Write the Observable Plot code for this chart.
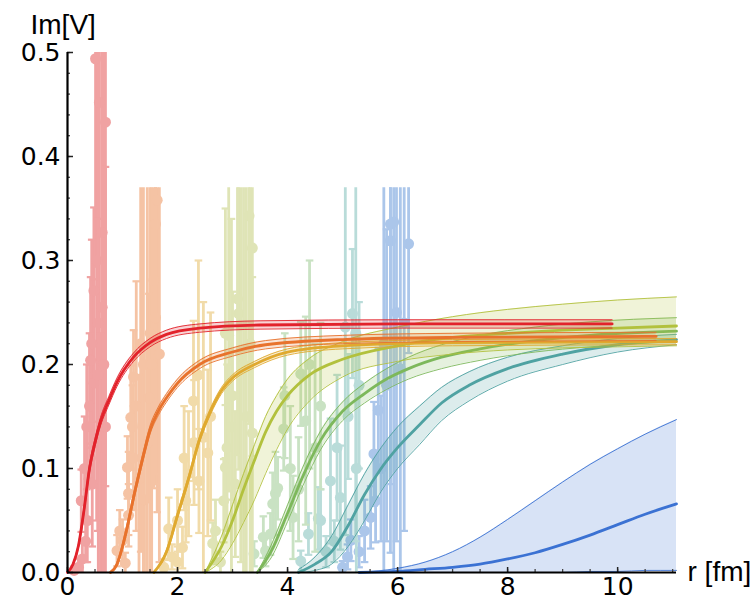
<!DOCTYPE html>
<html>
<head>
<meta charset="utf-8">
<script src="https://cdn.jsdelivr.net/npm/d3@7"></script>
<script src="https://cdn.jsdelivr.net/npm/@observablehq/plot@0.6"></script>
<style>
  html, body { margin: 0; padding: 0; background: #fff; }
  #chart { width: 755px; height: 601px; }
</style>
</head>
<body>
<div id="chart"></div>
<script>
// ---- tick labels / axis ----
const xTicks = [0, 2, 4, 6, 8, 10];
const yTicks = [0, 0.1, 0.2, 0.3, 0.4, 0.5];
const xLabel = "r [fm]";
const yLabel = "Im[V]";

// ---- series (order of drawing) ----
const seriesNames = ["blue", "teal", "green", "olive", "golden", "orange", "red"];
const pointColors = {red: "#f0a2a2", orange: "#f5c3a4", golden: "#f1dba9", olive: "#dfe4b6", green: "#c9e2c3", teal: "#b9dcd9", blue: "#abc6ea"};
const curveColors = {red: "#e2222b", orange: "#e8722c", golden: "#e0a92f", olive: "#b2c13d", green: "#7db85b", teal: "#4fa2a2", blue: "#3b72d3"};
const clipTop = {red: 0.5, orange: 0.37, golden: 0.37, olive: 0.37, green: 0.37, teal: 0.37, blue: 0.37};

// ---- data points [r, Im V, error] ----
const redPts = [[0.51,0.494,0.2],[0.58,0.452,0.25],[0.69,0.433,0.35],[0.63,0.327,0.2],[0.48,0.271,0.08],[0.63,0.255,0.3],[0.44,0.22,0.1],[0.42,0.204,0.08],[0.48,0.182,0.1],[0.69,0.14,0.25],[0.35,0.14,0.06],[0.31,0.1,0.05],[0.25,0.069,0.03],[0.36,0.05,0.04],[0.33,0.03,0.02],[0.27,0.013,0.015],[0.2,0.005,0.008],[0.12,0.002,0.004],[0.4,0.16,0.07],[0.55,0.19,0.15],[0.45,0.085,0.06],[0.6,0.11,0.12],[0.53,0.3,0.25],[0.66,0.2,0.3],[0.56,0.24,0.28]];
const orangePts = [[1.63,0.358,0.3],[1.6,0.335,0.25],[1.57,0.281,0.2],[1.6,0.245,0.15],[1.2,0.188,0.045],[1.15,0.149,0.05],[1.2,0.11,0.05],[1.11,0.076,0.04],[1.18,0.14,0.04],[1.09,0.101,0.03],[1.11,0.055,0.03],[1.0,0.031,0.02],[0.9,0.021,0.015],[1.05,0.009,0.01],[1.48,0.168,0.1],[1.38,0.2,0.2],[1.45,0.125,0.25],[1.3,0.09,0.1],[1.5,0.23,0.3],[0.95,0.04,0.02],[1.25,0.16,0.12],[1.4,0.07,0.15],[1.33,0.22,0.2],[1.53,0.2,0.25],[1.67,0.21,0.2]];
const goldenPts = [[2.38,0.19,0.11],[2.47,0.13,0.13],[2.29,0.165,0.077],[2.2,0.095,0.06],[2.39,0.088,0.05],[1.84,0.042,0.03],[2.09,0.024,0.02],[2.15,0.069,0.04],[2.0,0.05,0.03],[1.9,0.015,0.012],[1.75,0.005,0.008],[2.55,0.115,0.08],[2.3,0.125,0.06],[2.6,0.15,0.1],[2.12,0.11,0.05],[2.0,0.01,0.015]];
const olivePts = [[3.3,0.343,0.2],[3.36,0.312,0.2],[3.09,0.263,0.15],[3.11,0.249,0.15],[2.93,0.228,0.15],[2.87,0.23,0.12],[2.9,0.12,0.08],[2.87,0.101,0.06],[3.36,0.134,0.15],[2.84,0.069,0.04],[2.69,0.04,0.03],[2.64,0.028,0.02],[3.0,0.17,0.1],[3.2,0.2,0.2],[2.78,0.01,0.01],[3.05,0.085,0.07],[3.25,0.15,0.25],[2.98,0.14,0.2],[3.15,0.21,0.2],[3.32,0.22,0.22]];
const greenPts = [[4.24,0.191,0.05],[3.93,0.138,0.04],[4.33,0.146,0.1],[3.78,0.076,0.04],[3.73,0.066,0.03],[3.56,0.034,0.02],[3.39,0.018,0.012],[3.82,0.081,0.03],[4.1,0.053,0.04],[3.69,0.037,0.02],[3.6,0.021,0.015],[4.4,0.2,0.1],[4.05,0.1,0.06],[4.5,0.12,0.1],[3.95,0.17,0.06],[4.2,0.08,0.05],[4.6,0.16,0.08]];
const tealPts = [[5.18,0.249,0.062],[5.05,0.236,0.2],[5.24,0.23,0.2],[4.78,0.088,0.06],[4.96,0.072,0.05],[4.6,0.05,0.03],[4.56,0.052,0.03],[4.38,0.037,0.02],[4.24,0.011,0.01],[5.1,0.15,0.06],[4.9,0.12,0.07],[5.3,0.18,0.08],[4.7,0.02,0.015],[4.85,0.03,0.02],[5.25,0.1,0.12]];
const bluePts = [[5.87,0.335,0.25],[5.87,0.319,0.3],[6.2,0.316,0.105],[6.05,0.196,0.2],[5.65,0.156,0.06],[5.57,0.114,0.05],[5.6,0.069,0.04],[5.51,0.053,0.03],[5.15,0.031,0.02],[5.09,0.015,0.012],[5.93,0.337,0.35],[5.75,0.22,0.22],[5.4,0.04,0.03],[5.3,0.02,0.015],[5.0,0.005,0.006],[5.7,0.1,0.07],[5.8,0.18,0.15],[5.98,0.25,0.22],[6.12,0.24,0.2]];

// ---- fitted curves [r, centre, lower, upper] ----
const redFit = [[0,0,0,0],[0.1,0.008,0.007,0.009],[0.2,0.026,0.024,0.028],[0.3,0.06,0.057,0.063],[0.4,0.1,0.096,0.104],[0.5,0.125,0.121,0.129],[0.6,0.145,0.141,0.149],[0.75,0.165,0.161,0.169],[0.9,0.183,0.179,0.187],[1.2,0.207,0.203,0.211],[1.5,0.221,0.217,0.225],[1.8,0.229,0.225,0.233],[2.4,0.235,0.231,0.239],[3.5,0.238,0.234,0.242],[6,0.239,0.235,0.243],[9.9,0.239,0.235,0.243]];
const orangeFit = [[0.78,0,0,0],[0.9,0.008,0.006,0.01],[1.0,0.025,0.022,0.028],[1.1,0.047,0.043,0.051],[1.2,0.072,0.068,0.076],[1.3,0.095,0.091,0.099],[1.4,0.117,0.113,0.121],[1.5,0.137,0.133,0.141],[1.65,0.155,0.151,0.159],[1.8,0.168,0.164,0.172],[2.0,0.182,0.178,0.186],[2.4,0.2,0.196,0.204],[3.0,0.212,0.208,0.216],[3.6,0.219,0.215,0.223],[5,0.224,0.22,0.228],[7,0.226,0.222,0.23],[10.7,0.227,0.223,0.231]];
const goldenFit = [[1.57,0,0,0],[1.8,0.02,0.018,0.022],[2.0,0.055,0.052,0.058],[2.2,0.09,0.087,0.093],[2.4,0.128,0.125,0.131],[2.6,0.155,0.152,0.158],[2.8,0.175,0.172,0.178],[3.0,0.187,0.184,0.19],[3.4,0.2,0.197,0.203],[4.0,0.212,0.209,0.215],[5.0,0.218,0.215,0.221],[7,0.221,0.218,0.224],[11.07,0.222,0.219,0.225]];
const oliveFit = [[2.5,0,0,0],[2.8,0.025,0.012,0.035],[3.0,0.05,0.028,0.065],[3.2,0.08,0.048,0.095],[3.4,0.108,0.07,0.123],[3.6,0.135,0.095,0.15],[3.8,0.155,0.118,0.17],[4.0,0.17,0.138,0.186],[4.4,0.19,0.165,0.206],[5.0,0.205,0.188,0.222],[6,0.218,0.203,0.236],[7,0.226,0.21,0.246],[8,0.23,0.214,0.253],[9,0.233,0.216,0.258],[10,0.235,0.217,0.262],[11.07,0.237,0.218,0.265]];
const greenFit = [[3.45,0,0,0],[3.7,0.02,0.014,0.026],[4.0,0.057,0.049,0.065],[4.3,0.095,0.086,0.104],[4.6,0.127,0.118,0.136],[5.0,0.155,0.146,0.164],[5.4,0.172,0.163,0.182],[5.8,0.186,0.176,0.196],[6.2,0.196,0.186,0.207],[6.8,0.207,0.196,0.219],[7.5,0.215,0.204,0.228],[8.5,0.223,0.212,0.236],[9.5,0.228,0.217,0.241],[11.07,0.232,0.222,0.245]];
const tealFit = [[4.2,0,0,0.003],[4.5,0.008,0.002,0.015],[4.8,0.02,0.008,0.035],[5.1,0.045,0.025,0.065],[5.4,0.075,0.05,0.095],[5.7,0.1,0.078,0.12],[6.0,0.12,0.1,0.14],[6.4,0.142,0.123,0.16],[6.8,0.163,0.146,0.178],[7.3,0.18,0.165,0.193],[8.0,0.196,0.184,0.207],[9.0,0.21,0.2,0.218],[10.0,0.219,0.212,0.225],[11.07,0.224,0.219,0.229]];
const blueFit = [[5.3,0,0,0],[6.0,0.001,0,0.004],[6.5,0.003,0,0.01],[7.0,0.005,0,0.02],[7.5,0.008,0,0.034],[8.0,0.013,0,0.051],[8.5,0.019,0,0.069],[9.0,0.027,0,0.087],[9.5,0.036,0.001,0.104],[10.0,0.046,0.001,0.119],[10.5,0.056,0.002,0.133],[11.07,0.066,0.002,0.147]];

const pointsBySeries = {red: redPts, orange: orangePts, golden: goldenPts, olive: olivePts, green: greenPts, teal: tealPts, blue: bluePts};
const fitsBySeries = {red: redFit, orange: orangeFit, golden: goldenFit, olive: oliveFit, green: greenFit, teal: tealFit, blue: blueFit};

// ---- build tables ----
const bars = [];
const caps = [];
for (const s of seriesNames) {
  for (const [r, y, e] of pointsBySeries[s]) {
    const lo = Math.max(0, y - e), hi = Math.min(clipTop[s], y + e);
    bars.push({s, r, y, lo, hi});
    if (y + e < clipTop[s]) caps.push({s, r, v: y + e});
    if (y - e > 0) caps.push({s, r, v: y - e});
  }
}
const fits = [];
for (const s of seriesNames) for (const [r, c, lo, hi] of fitsBySeries[s]) fits.push({s, r, c, lo, hi});

const capSymbol = {draw(ctx, size) { const w = Math.sqrt(size / Math.PI); ctx.moveTo(-w, 0); ctx.lineTo(w, 0); }};

const W = 755, H = 601, mL = 67, mR = 79, mT = 52, mB = 29;
const plotW = W - mL - mR, plotH = H - mT - mB;

const marks = [];
// data points with error bars
for (const s of seriesNames) {
  const b = bars.filter(d => d.s === s);
  const c = caps.filter(d => d.s === s);
  marks.push(Plot.ruleX(b, {x: "r", y1: "lo", y2: "hi", stroke: pointColors[s], strokeWidth: 2.8}));
  marks.push(Plot.dot(c, {x: "r", y: "v", symbol: capSymbol, r: 3.8, stroke: pointColors[s], strokeWidth: 2.2, fill: "none"}));
  marks.push(Plot.dot(b, {x: "r", y: "y", r: 5.5, fill: pointColors[s], stroke: "none"}));
}
// fitted curves with bands
for (const s of seriesNames) {
  const f = fits.filter(d => d.s === s);
  marks.push(Plot.areaY(f, {x: "r", y1: "lo", y2: "hi", fill: curveColors[s], fillOpacity: 0.2, curve: "monotone-x"}));
  marks.push(Plot.line(f, {x: "r", y: "lo", stroke: curveColors[s], strokeWidth: 0.9, curve: "monotone-x"}));
  marks.push(Plot.line(f, {x: "r", y: "hi", stroke: curveColors[s], strokeWidth: 0.9, curve: "monotone-x"}));
  marks.push(Plot.line(f, {x: "r", y: "c", stroke: curveColors[s], strokeWidth: 2.8, curve: "monotone-x"}));
}
// axes lines + inward ticks
marks.push(Plot.tickY(d3.range(0, 0.5001, 0.02), {y: d => d, insetRight: plotW - 3, stroke: "#444", strokeWidth: 1.3}));
marks.push(Plot.tickY(yTicks, {y: d => d, insetRight: plotW - 6, stroke: "#222", strokeWidth: 1.5}));
marks.push(Plot.tickX(d3.range(0.5, 11.01, 0.5), {x: d => d, insetTop: plotH - 3, stroke: "#444", strokeWidth: 1.3}));
marks.push(Plot.tickX(xTicks, {x: d => d, insetTop: plotH - 5, stroke: "#222", strokeWidth: 1.5}));
marks.push(Plot.ruleX([0], {stroke: "#000", strokeWidth: 2.2}));
marks.push(Plot.ruleY([0], {stroke: "#000", strokeWidth: 2.2}));
// axis titles
marks.push(Plot.text([yLabel], {text: d => d, frameAnchor: "top-left", textAnchor: "start", lineAnchor: "middle", dx: -37, dy: -27, fontSize: 28, fontFamily: "'Liberation Sans', Arial, sans-serif", fill: "#000"}));
marks.push(Plot.text([xLabel], {text: d => d, frameAnchor: "bottom-right", textAnchor: "start", lineAnchor: "middle", dx: 11, dy: 0, fontSize: 28, fontFamily: "'Liberation Sans', Arial, sans-serif", fill: "#000"}));

const chart = Plot.plot({
  width: W, height: H,
  marginLeft: mL, marginRight: mR, marginTop: mT, marginBottom: mB,
  style: {fontFamily: "'DejaVu Sans', 'Liberation Sans', Arial, sans-serif", fontSize: "25px", background: "#fff", color: "#000", overflow: "visible"},
  x: {domain: [0, 11.07], ticks: xTicks, tickSize: 0, tickPadding: 5, tickFormat: d3.format("d"), label: null},
  y: {domain: [0, 0.5], ticks: yTicks, tickSize: 0, tickPadding: 7, tickFormat: d3.format(".1f"), label: null},
  marks
});
document.getElementById("chart").appendChild(chart);
</script>
</body>
</html>
